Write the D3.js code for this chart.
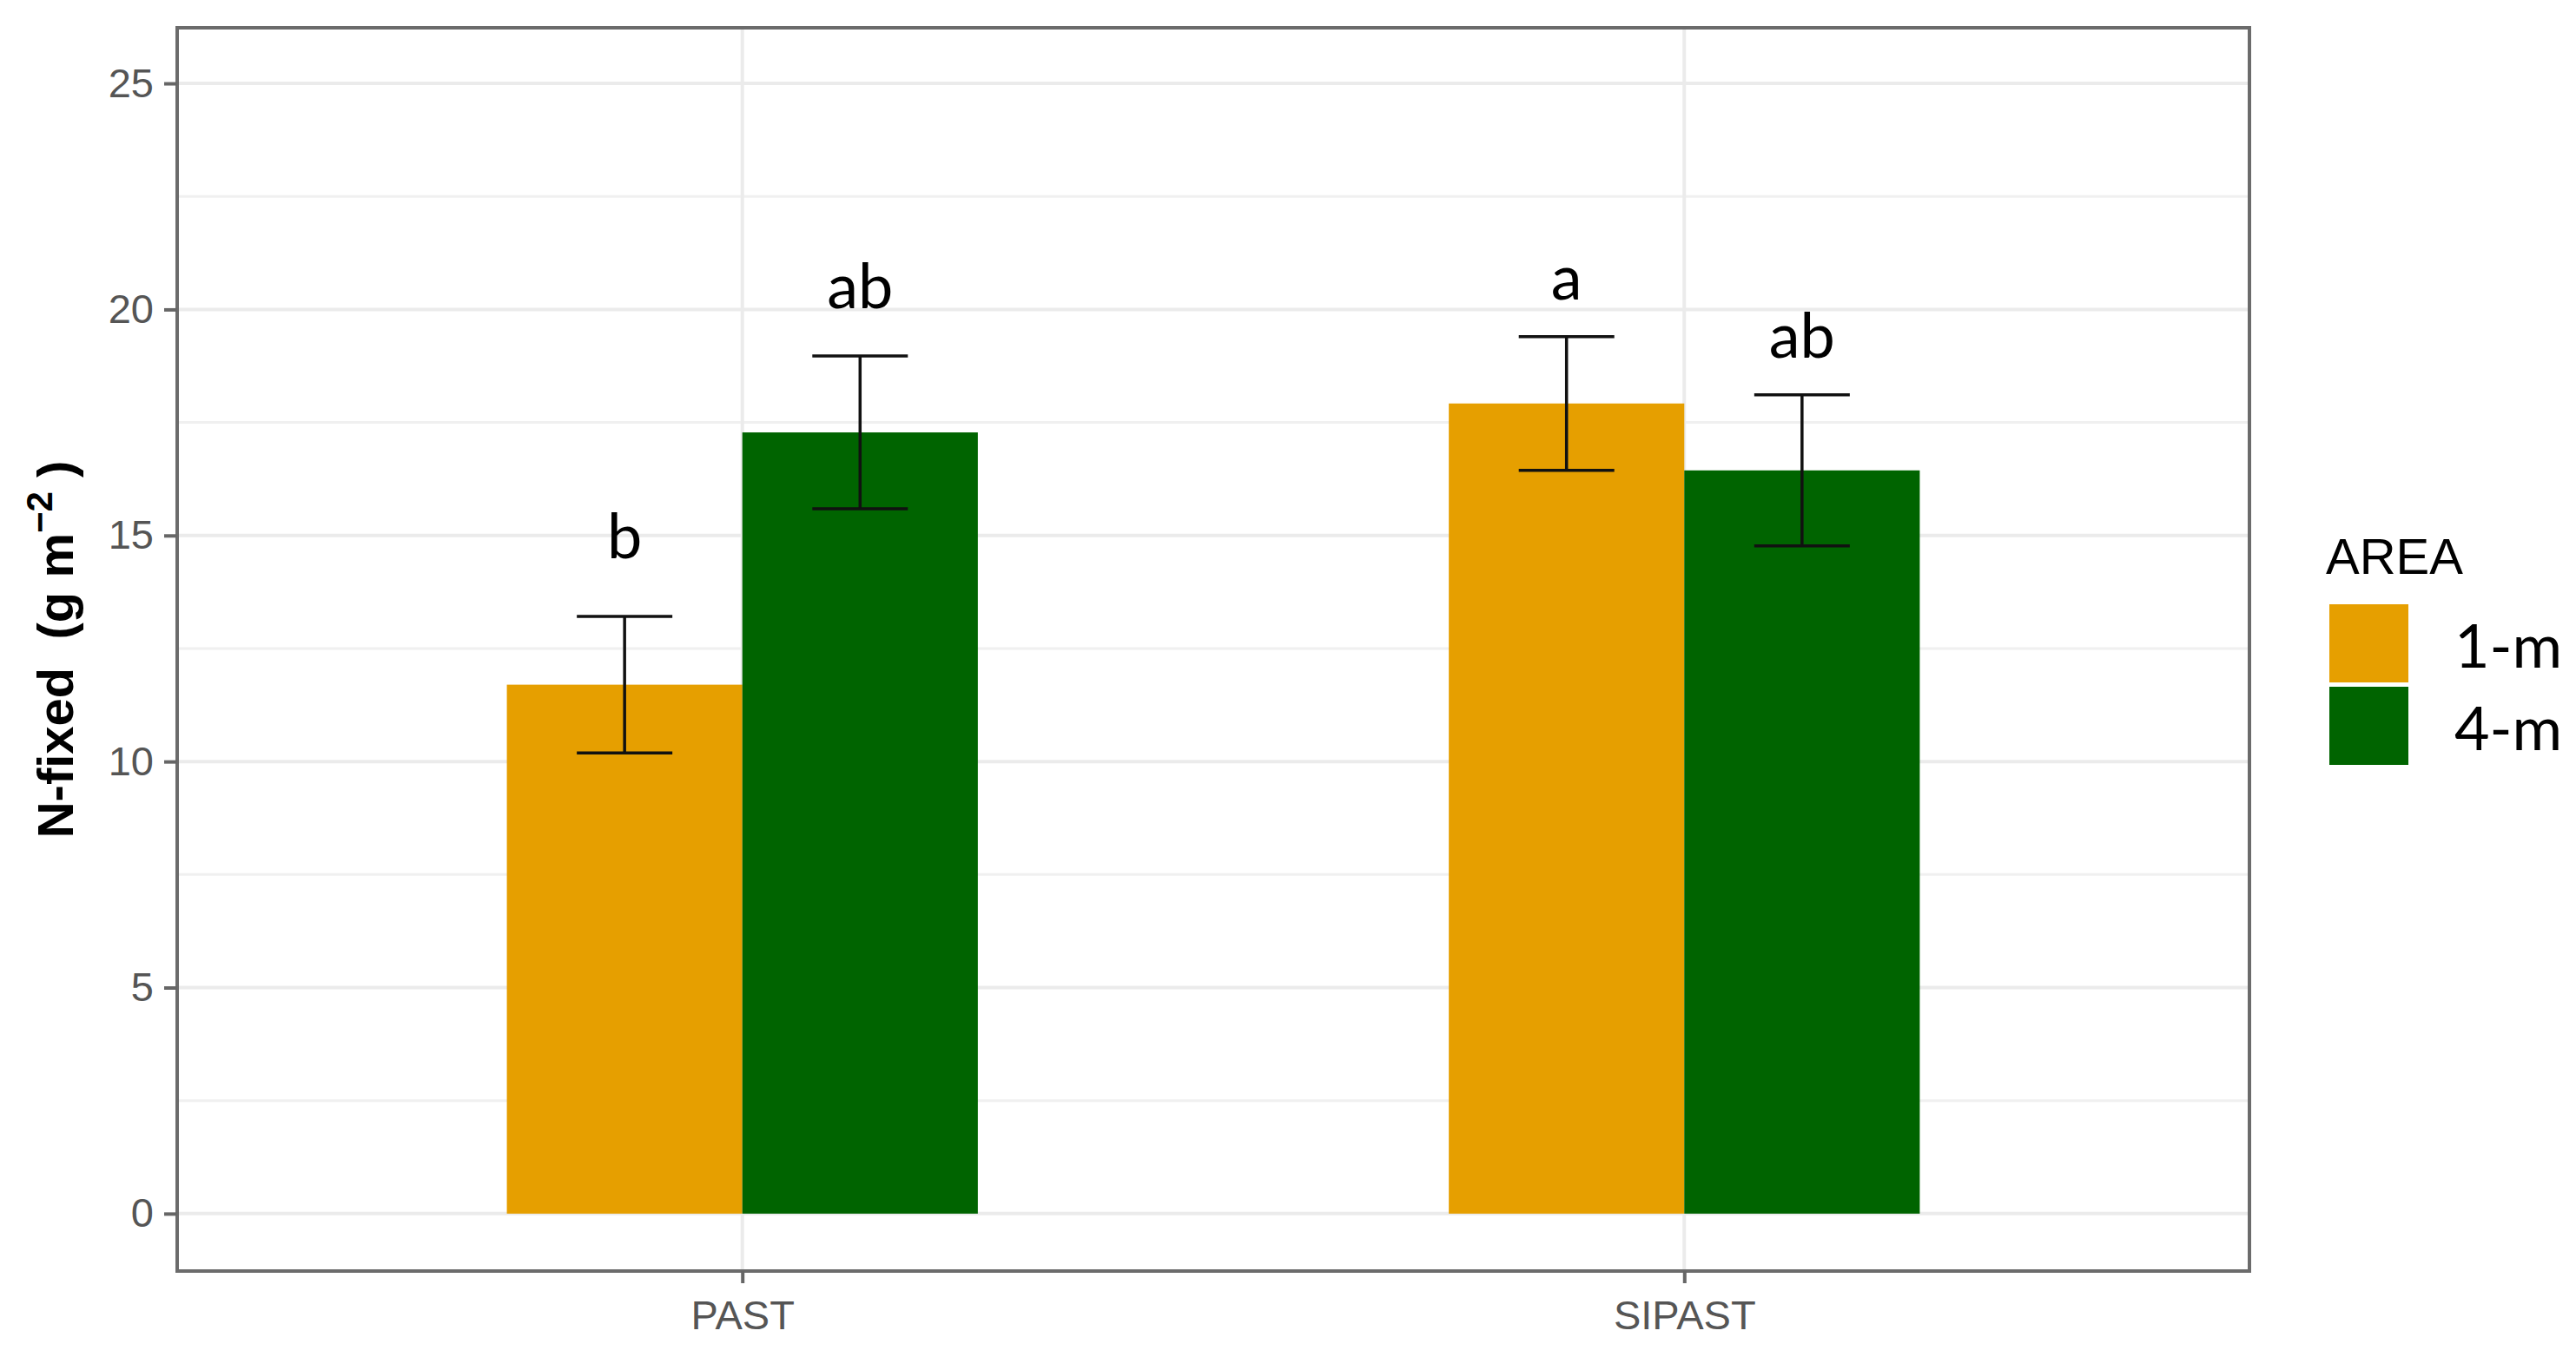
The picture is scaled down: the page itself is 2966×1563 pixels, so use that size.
<!DOCTYPE html>
<html>
<head>
<meta charset="utf-8">
<script src="https://cdn.jsdelivr.net/npm/d3@7"></script>
<style>
  html, body { margin: 0; padding: 0; background: #ffffff; }
  svg { display: block; }
</style>
</head>
<body>
<svg id="chart" width="2966" height="1563"></svg>
<script>
// ---- data ----
const categories = ["PAST", "SIPAST"];
const groups = ["1-m", "4-m"];
const values1m = [11.70, 17.92];
const values4m = [17.28, 16.44];
const se1m = [1.51, 1.48];
const se4m = [1.69, 1.67];
const letters1m = ["b", "a"];
const letters4m = ["ab", "ab"];
const letterPos1m = [14.5, 20.22];
const letterPos4m = [20.03, 18.94];
const yTicks = [0, 5, 10, 15, 20, 25];
const yMinorTicks = [2.5, 7.5, 12.5, 17.5, 22.5];
const colors = ["#E69F00", "#006400"];

// ---- layout ----
const W = 2966, H = 1563;
const P = { left: 204, right: 2590, top: 32, bottom: 1464 };
const svg = d3.select("#chart");

const x = d3.scalePoint().domain(categories).range([P.left, P.right]).padding(0.6);
const step = x.step();
const xSub = d3.scaleBand().domain(groups).range([-step * 0.25, step * 0.25]).padding(0);
const y = d3.scaleLinear().domain([-1.27, 26.23]).range([P.bottom, P.top]);
const color = d3.scaleOrdinal().domain(groups).range(colors);

const rows = [];
categories.forEach((c, i) => {
  rows.push({ cat: c, grp: groups[0], v: values1m[i], se: se1m[i], lab: letters1m[i], ly: letterPos1m[i] });
  rows.push({ cat: c, grp: groups[1], v: values4m[i], se: se4m[i], lab: letters4m[i], ly: letterPos4m[i] });
});

// background
svg.append("rect").attr("width", W).attr("height", H).attr("fill", "#ffffff");

// grid
const grid = svg.append("g");
grid.selectAll("line.minor").data(yMinorTicks).join("line")
  .attr("x1", P.left).attr("x2", P.right)
  .attr("y1", d => y(d)).attr("y2", d => y(d))
  .attr("stroke", "#F0F0F0").attr("stroke-width", 3);
grid.selectAll("line.major").data(yTicks).join("line")
  .attr("x1", P.left).attr("x2", P.right)
  .attr("y1", d => y(d)).attr("y2", d => y(d))
  .attr("stroke", "#EBEBEB").attr("stroke-width", 4);
grid.selectAll("line.vmajor").data(categories).join("line")
  .attr("x1", d => x(d)).attr("x2", d => x(d))
  .attr("y1", P.top).attr("y2", P.bottom)
  .attr("stroke", "#EBEBEB").attr("stroke-width", 4);

// bars
svg.append("g").selectAll("rect").data(rows).join("rect")
  .attr("x", d => x(d.cat) + xSub(d.grp))
  .attr("width", xSub.bandwidth())
  .attr("y", d => y(d.v))
  .attr("height", d => y(0) - y(d.v))
  .attr("fill", d => color(d.grp));

// error bars
const capHalf = 55;
const eb = svg.append("g").attr("stroke", "#111").attr("stroke-width", 3.5).attr("fill", "none");
rows.forEach(d => {
  const cx = x(d.cat) + xSub(d.grp) + xSub.bandwidth() / 2;
  const y1 = y(d.v + d.se), y0 = y(d.v - d.se);
  eb.append("line").attr("x1", cx).attr("x2", cx).attr("y1", y1).attr("y2", y0);
  eb.append("line").attr("x1", cx - capHalf).attr("x2", cx + capHalf).attr("y1", y1).attr("y2", y1);
  eb.append("line").attr("x1", cx - capHalf).attr("x2", cx + capHalf).attr("y1", y0).attr("y2", y0);
});

// significance letters
svg.append("g").selectAll("text").data(rows).join("text")
  .attr("x", d => x(d.cat) + xSub(d.grp) + xSub.bandwidth() / 2)
  .attr("y", d => y(d.ly))
  .attr("text-anchor", "middle")
  .attr("font-family", "Lato, 'Open Sans', sans-serif")
  .attr("font-size", 72)
  .attr("fill", "#000")
  .text(d => d.lab);

// panel border
svg.append("rect")
  .attr("x", P.left).attr("y", P.top)
  .attr("width", P.right - P.left).attr("height", P.bottom - P.top)
  .attr("fill", "none").attr("stroke", "#6b6b6b").attr("stroke-width", 4);

// y axis
const yAxis = svg.append("g").attr("transform", `translate(${P.left},0)`)
  .call(d3.axisLeft(y).tickValues(yTicks).tickSize(15).tickPadding(12).tickFormat(d3.format("d")));
yAxis.select(".domain").remove();
yAxis.selectAll(".tick line").attr("stroke", "#666").attr("stroke-width", 4);
yAxis.selectAll(".tick text").attr("font-family", "'Liberation Sans', Arial, sans-serif")
  .attr("font-size", 47).attr("fill", "#555");

// x axis
const xAxis = svg.append("g").attr("transform", `translate(0,${P.bottom})`)
  .call(d3.axisBottom(x).tickSize(14).tickPadding(20));
xAxis.select(".domain").remove();
xAxis.selectAll(".tick line").attr("stroke", "#666").attr("stroke-width", 4);
xAxis.selectAll(".tick text").attr("font-family", "'Liberation Sans', Arial, sans-serif")
  .attr("font-size", 47).attr("fill", "#555");

// y title
const yt = svg.append("text")
  .attr("transform", `translate(84,${(P.top + P.bottom) / 2}) rotate(-90)`)
  .attr("text-anchor", "middle")
  .attr("font-family", "'Liberation Sans', Arial, sans-serif")
  .attr("font-weight", "bold")
  .attr("font-size", 58)
  .attr("fill", "#000");
yt.append("tspan").text("N-fixed  (g m").attr("xml:space", "preserve").style("white-space", "pre");
yt.append("tspan").attr("font-size", 42).attr("dy", -24).text("\u22122");
yt.append("tspan").attr("dy", 24).style("white-space", "pre").text(" )");

// legend
const lg = svg.append("g");
lg.append("text").attr("x", 2678).attr("y", 661)
  .attr("font-family", "'Liberation Sans', Arial, sans-serif")
  .attr("font-size", 58).attr("fill", "#000").text("AREA");
const keyY = [696, 791];
groups.forEach((g, i) => {
  lg.append("rect").attr("x", 2682).attr("y", keyY[i]).attr("width", 91).attr("height", 90)
    .attr("fill", color(g));
  lg.append("text").attr("x", 2826).attr("y", keyY[i] + 73)
    .attr("font-family", "Lato, 'Open Sans', sans-serif")
    .attr("font-size", 70).attr("fill", "#000").text(g);
});
</script>
</body>
</html>
